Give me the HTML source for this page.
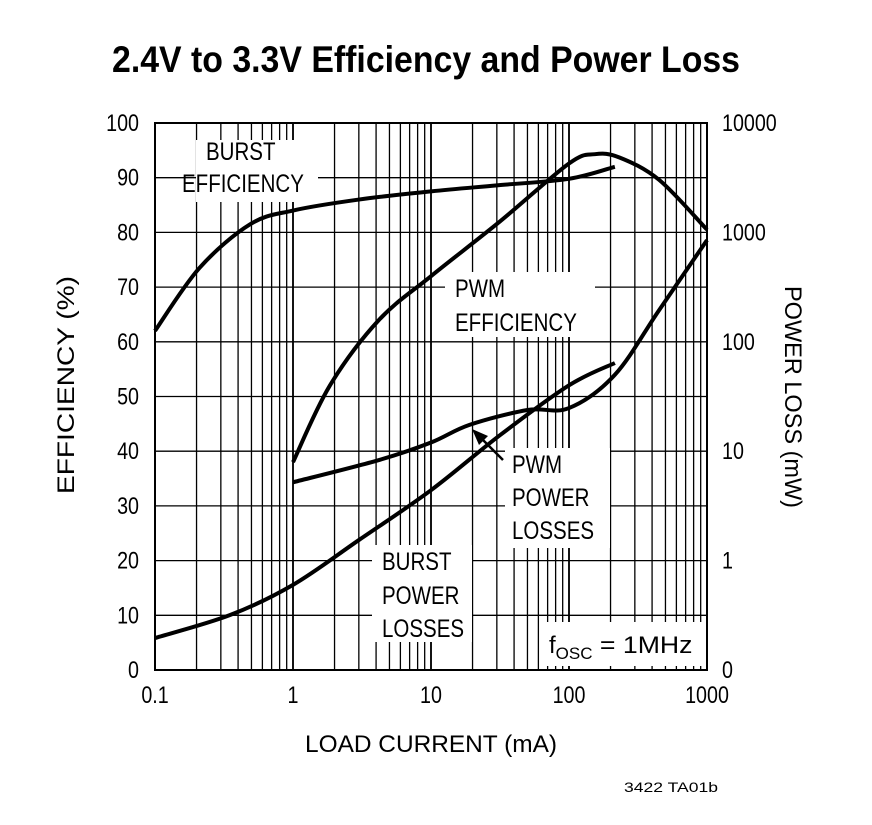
<!DOCTYPE html>
<html><head><meta charset="utf-8"><style>
html,body{margin:0;padding:0;background:#fff;}
svg{display:block;font-family:"Liberation Sans",Arial,sans-serif;}
</style></head><body>
<svg id="chart" width="872" height="825" viewBox="0 0 872 825">
<text x="112" y="72" font-size="37" font-weight="bold" textLength="628" lengthAdjust="spacingAndGlyphs">2.4V to 3.3V Efficiency and Power Loss</text>
<g id="grid"></g>
<g id="labels-bg"></g>
<g id="series"></g>
<g id="axes"></g>
<text transform="translate(74 385) rotate(-90)" font-size="24" text-anchor="middle" textLength="218" lengthAdjust="spacingAndGlyphs">EFFICIENCY (%)</text>
<text transform="translate(785 397) rotate(90)" font-size="24" text-anchor="middle" textLength="222" lengthAdjust="spacingAndGlyphs">POWER LOSS (mW)</text>
<text x="431" y="752" font-size="24" text-anchor="middle" textLength="252" lengthAdjust="spacingAndGlyphs">LOAD CURRENT (mA)</text>
<text x="624" y="792" font-size="14" textLength="94" lengthAdjust="spacingAndGlyphs">3422 TA01b</text>
</svg>
<script>
const xTicks=[0.1,1,10,100,1000];
const xTickLabels=["0.1","1","10","100","1000"];
const effTicks=[0,10,20,30,40,50,60,70,80,90,100];
const lossTickLabels=["0","1","10","100","1000","10000"];
const burstEffX=[0.1,0.21,0.49,1,3,10,30,100,215];
const burstEffY=[62,73.5,81.5,84,86,87.5,88.6,89.8,92];
const pwmEffX=[1,1.85,4.2,10,31.6,100,154,232,450,1000];
const pwmEffY=[38,52,64,72,82,92.6,94.3,93.7,89.6,80.5];
const pwmLossX=[1,4.2,10,19,50,100,215,450,1000];
const pwmLossY=[5.2,8.3,12,17.4,23.8,24.8,50,195,850];
const burstLossX=[0.1,0.35,1,3,10,31.6,100,215];
const burstLossY=[0.196,0.318,0.6,1.54,4.4,14,40,64];

const L=155,R=707,T=123,B=670;
const xs=v=>L+(Math.log10(v)+1)*(R-L)/4;
const ye=v=>B-v*(B-T)/100;
const yl=v=>B-(Math.log10(v)+1)*(B-T)/5;
const NS="http://www.w3.org/2000/svg";
function mk(t,a,p){const e=document.createElementNS(NS,t);for(const k in a)e.setAttribute(k,a[k]);p.appendChild(e);return e;}
const grid=document.getElementById('grid'),ser=document.getElementById('series'),axes=document.getElementById('axes'),bg=document.getElementById('labels-bg');
for(let d=-1;d<3;d++)for(let m=1;m<=10;m++){const x=xs(m*Math.pow(10,d));
 const ln=mk('line',{x1:x,x2:x,y1:T,y2:B,stroke:'#000','stroke-width':(m===1||m===10)?1.6:1.3},grid);
 
 }
effTicks.forEach(v=>{const ln=mk('line',{x1:L,x2:R,y1:ye(v),y2:ye(v),stroke:'#000','stroke-width':1.3},grid);
 
 
 const t=mk('text',{x:L-16,y:ye(v)+8,'font-size':24,'text-anchor':'end'},axes);t.textContent=v;
 
 });
lossTickLabels.forEach((s,i)=>{const t=mk('text',{x:R+15,y:B-i*(B-T)/5+8,'font-size':24},axes);t.textContent=s;
 
 });
xTicks.forEach((v,i)=>{const t=mk('text',{x:xs(v),y:B+33,'font-size':24,'text-anchor':'middle'},axes);t.textContent=xTickLabels[i];
 
 });
const fr=mk('rect',{x:L,y:T,width:R-L,height:B-T,fill:'none',stroke:'#000','stroke-width':2},axes);


function path(X,Y,f,name){const pts=X.map((x,i)=>[xs(x),f(Y[i])]);
 let d='M'+pts[0][0]+','+pts[0][1];
 for(let i=1;i<pts.length;i++){const p0=pts[i-2]||pts[i-1],p1=pts[i-1],p2=pts[i],p3=pts[i+1]||p2;
  d+=` C${p1[0]+(p2[0]-p0[0])/6},${p1[1]+(p2[1]-p0[1])/6} ${p2[0]-(p3[0]-p1[0])/6},${p2[1]-(p3[1]-p1[1])/6} ${p2[0]},${p2[1]}`;}
 const e=mk('path',{d:d,fill:'none',stroke:'#000','stroke-width':4,'stroke-linejoin':'round'},ser);
 
 }
path(burstEffX,burstEffY,ye,'burst-efficiency-line');
path(pwmEffX,pwmEffY,ye,'pwm-efficiency-line');
path(pwmLossX,pwmLossY,yl,'pwm-power-loss-line');
path(burstLossX,burstLossY,yl,'burst-power-loss-line');
const labs=[[196,140,122,62,['BURST','EFFICIENCY'],[206,160,182,192]],
[445,272,150,65,['PWM','EFFICIENCY'],[455,297,455,331]],
[505,448,105,100,['PWM','POWER','LOSSES'],[512,473,512,506,512,539]],
[372,545,100,97,['BURST','POWER','LOSSES'],[382,570,382,604,382,637]]];
const ln=['burst-efficiency-label','pwm-efficiency-label','pwm-losses-label','burst-losses-label'];
labs.forEach((l,i)=>{const r=mk('rect',{x:l[0],y:l[1],width:l[2],height:l[3],fill:'#fff'},bg);
 
 
 l[4].forEach((s,j)=>{const t=mk('text',{x:l[5][2*j],y:l[5][2*j+1],'font-size':25},axes);t.textContent=s;
 
 });});
const fb=mk('rect',{x:543,y:622,width:160,height:44,fill:'#fff'},bg);


document.querySelectorAll('#axes text').forEach(t=>{const w=t.getComputedTextLength();
 t.setAttribute('textLength',w*0.82);t.setAttribute('lengthAdjust','spacingAndGlyphs');});
const ft=mk('text',{x:549,y:653,'font-size':24},axes);


ft.innerHTML='f<tspan font-size="17" dy="6">OSC</tspan><tspan dy="-6" textLength="100" lengthAdjust="spacingAndGlyphs"> = 1MHz</tspan>';
const ar=mk('line',{x1:503,y1:460,x2:478,y2:435,stroke:'#000','stroke-width':2.5},ser);


const ah=mk('polygon',{points:'472,429 488,436 479,445',fill:'#000'},ser);


</script>
</body></html>
